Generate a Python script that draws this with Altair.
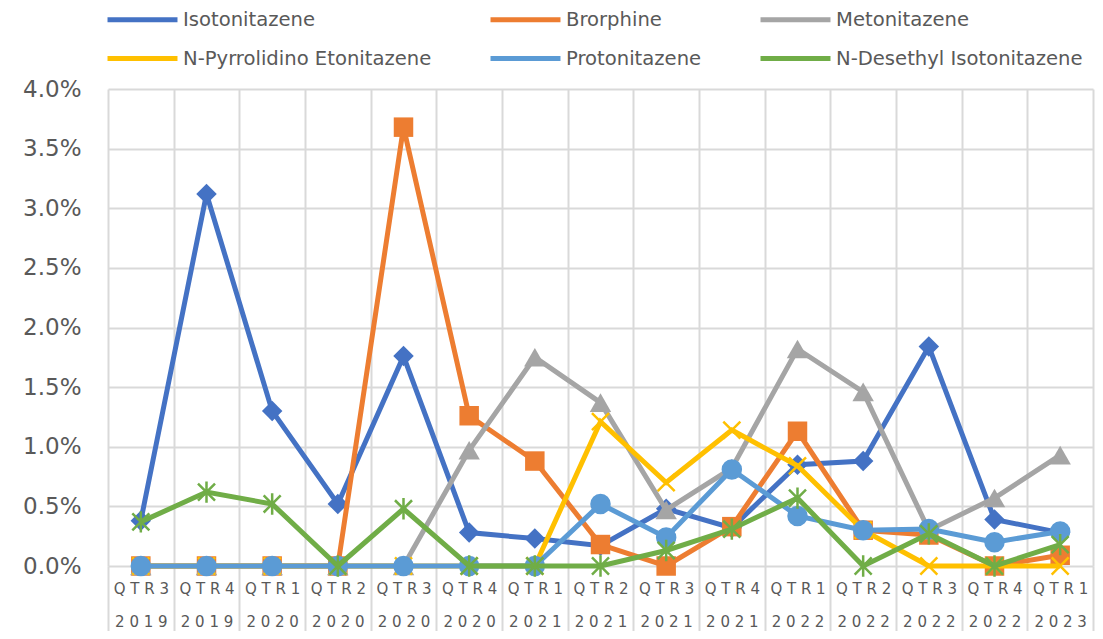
import altair as alt
import pandas as pd

categories = ["QTR3 2019", "QTR4 2019", "QTR1 2020", "QTR2 2020", "QTR3 2020",
              "QTR4 2020", "QTR1 2021", "QTR2 2021", "QTR3 2021", "QTR4 2021",
              "QTR1 2022", "QTR2 2022", "QTR3 2022", "QTR4 2022", "QTR1 2023"]

series_names = ["Isotonitazene", "Brorphine", "Metonitazene",
                "N-Pyrrolidino Etonitazene", "Protonitazene", "N-Desethyl Isotonitazene"]

# values in percent
isotonitazene = [0.38, 3.12, 1.30, 0.52, 1.76, 0.28, 0.23, 0.17, 0.48, 0.32, 0.85, 0.88, 1.84, 0.39, 0.28]
brorphine = [0, 0, 0, 0, 3.68, 1.26, 0.88, 0.18, 0.0, 0.33, 1.13, 0.30, 0.26, 0.0, 0.09]
metonitazene = [0, 0, 0, 0, 0, 0.97, 1.75, 1.37, 0.47, 0.82, 1.82, 1.46, 0.30, 0.57, 0.93]
n_pyrrolidino = [0, 0, 0, 0, 0, 0, 0, 1.21, 0.70, 1.14, 0.84, 0.30, 0, 0, 0]
protonitazene = [0, 0, 0, 0, 0, 0, 0, 0.52, 0.24, 0.81, 0.42, 0.30, 0.31, 0.20, 0.29]
n_desethyl = [0.37, 0.62, 0.52, 0, 0.48, 0, 0, 0, 0.13, 0.31, 0.57, 0, 0.27, 0, 0.18]

colors = ["#4472C4", "#ED7D31", "#A5A5A5", "#FFC000", "#5B9BD5", "#70AD47"]
shapes = ["diamond", "square", "triangle-up",
          "M-1,-1L1,1M-1,1L1,-1", "circle", "M-1,-1L1,1M-1,1L1,-1M0,-1.25L0,1.25"]
sizes = [420, 380, 460, 290, 420, 290]
filled = [True, True, True, False, True, False]

all_values = [isotonitazene, brorphine, metonitazene, n_pyrrolidino, protonitazene, n_desethyl]
rows = []
for name, vals in zip(series_names, all_values):
    for c, v in zip(categories, vals):
        rows.append({"period": c, "series": name, "value": v / 100.0})
df = pd.DataFrame(rows)

FONT = "DejaVu Sans"
TXT = "#595959"
GRID = "#D9D9D9"

x_enc = alt.X(
    "period:O", sort=categories, title=None,
    scale=alt.Scale(type="band", paddingInner=0, paddingOuter=0),
    axis=alt.Axis(
        labelAngle=0, domain=False, grid=True, gridColor=GRID, gridWidth=2,
        ticks=True, tickBand="extent", tickSize=65, tickColor=GRID, tickWidth=2,
        labelPadding=-50, labelFont=FONT, labelFontSize=15, labelColor=TXT,
        labelLineHeight=33, labelBaseline="top",
        labelExpr="datum.label ? [join(split(split(datum.label, ' ')[0], ''), ' '), join(split(split(datum.label, ' ')[1], ''), ' ')] : ''",
    ),
)
y_enc = alt.Y(
    "value:Q", title=None,
    scale=alt.Scale(domain=[0, 0.04], nice=False, zero=True),
    axis=alt.Axis(
        format=".1%", values=[i * 0.005 for i in range(9)], domain=False, ticks=False,
        grid=True, gridColor=GRID, gridWidth=2,
        labelFont=FONT, labelFontSize=23, labelColor=TXT, labelPadding=27,
    ),
)
color_enc = alt.Color(
    "series:N",
    scale=alt.Scale(domain=series_names, range=colors),
    legend=alt.Legend(
        title=None, orient="none", legendX=23, legendY=-81, columns=3, direction="horizontal",
        symbolType="M-4,0H4", symbolSize=306, symbolStrokeWidth=5,
        labelFont=FONT, labelFontSize=19.6, labelColor=TXT, labelOffset=29,
        columnPadding=48, rowPadding=17, labelLimit=400,
    ),
)

base = alt.Chart(df)
layers = []
for i, name in enumerate(series_names):
    sub = base.transform_filter(alt.datum.series == name)
    layers.append(sub.mark_line(strokeWidth=5).encode(x=x_enc, y=y_enc, color=color_enc))
    layers.append(
        sub.mark_point(shape=shapes[i], size=sizes[i], filled=filled[i], opacity=1,
                       strokeWidth=2.5).encode(x=x_enc, y=y_enc, color=color_enc)
    )

chart = (
    alt.layer(*layers)
    .properties(width=985, height=477,
                autosize=alt.AutoSizeParams(type="none"),
                padding={"left": 100, "top": 81, "right": 2, "bottom": 65})
    .configure_view(strokeWidth=0)
)

chart.save("out.html", embed_options={"renderer": "svg", "actions": False})
